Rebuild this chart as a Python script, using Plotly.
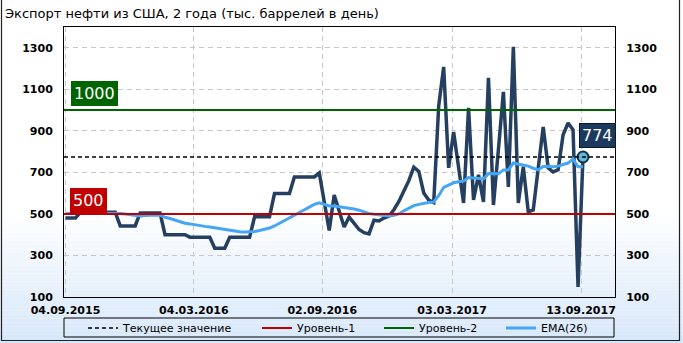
import plotly.graph_objects as go

# ---------------- data ----------------
title_text = "Экспорт нефти из США, 2 года (тыс. баррелей в день)"
tick_labels = ["04.09.2015", "04.03.2016", "02.09.2016", "03.03.2017", "13.09.2017"]
tick_positions = [0, 25.8, 51.6, 77.7, 103.6]

export = [
    480, 480, 480, 508, 508, 508, 508, 508, 508, 508,
    508, 442, 442, 442, 442, 505, 505, 505, 505, 505,
    400, 400, 400, 400, 400, 388, 388, 388, 388, 388,
    335, 335, 335, 388, 388, 388, 388, 388, 486, 486,
    486, 486, 598, 598, 598, 598, 678, 678, 678, 678,
    678, 697, 560, 420, 591, 515, 437, 485, 455, 425,
    410, 404, 470, 466, 480, 490, 520, 560, 610, 660,
    725, 705, 601, 567, 555, 1020, 1208, 722, 895, 720,
    553, 1011, 567, 688, 558, 1155, 543, 810, 1088, 630,
    1305, 553, 727, 510, 519, 720, 919, 722, 702, 712,
    881, 938, 905, 148, 774,
]

ema26 = [
    502, 502, 503, 505, 505, 505, 505, 505, 505, 505,
    503, 502, 500, 496, 492, 490, 492, 494, 495, 494,
    484, 478, 470, 463, 455, 452, 447, 443, 440, 437,
    433, 428, 423, 420, 416, 414, 413, 413, 415, 420,
    426, 432, 442, 455, 468, 481, 495, 508, 521, 534,
    546, 553, 545, 538, 538, 535, 532, 528, 524, 518,
    510, 502, 498, 495, 491, 490, 494, 500, 515, 527,
    540, 546, 552, 555, 558, 588, 628, 638, 650, 655,
    658, 675, 673, 670, 668, 695, 694, 693, 712, 712,
    745, 740, 736, 730, 720, 712, 728, 730, 727, 730,
    738, 745, 765, 727, 727,
]

level1 = 500
level2 = 1000
current = export[-1]

series_names = ["Текущее значение", "Уровень-1", "Уровень-2", "EMA(26)"]
y_ticks = [100, 300, 500, 700, 900, 1100, 1300]

# ---------------- geometry helpers ----------------
W, H = 683, 343
ML, MR, MT, MB = 64, 68, 27, 46
PW, PH = W - ML - MR, H - MT - MB


def px(xp):
    return (xp - ML) / PW


def py(yp):
    return (H - MB - yp) / PH


FONT = "DejaVu Sans"
NAVY = "#243f60"
BLUE = "#45a6f5"
RED = "#c00000"
GREEN = "#006400"

x_idx = list(range(len(export)))

fig = go.Figure()

fig.add_trace(go.Scatter(
    x=x_idx, y=export, mode="lines",
    line=dict(color=NAVY, width=3.5), showlegend=False, hoverinfo="skip"))

fig.add_trace(go.Scatter(
    x=x_idx, y=ema26, mode="lines", name=series_names[3],
    line=dict(color=BLUE, width=3), legend="legend4"))

fig.add_trace(go.Scatter(
    x=[x_idx[-1]], y=[current], mode="markers", showlegend=False,
    marker=dict(size=11, color="#63b8d3", line=dict(color="#14304f", width=2))))

# invisible trace for right axis
fig.add_trace(go.Scatter(x=[x_idx[0]], y=[current], yaxis="y2", mode="markers",
                         marker=dict(opacity=0), showlegend=False, hoverinfo="skip"))

# gradient background bands
N = 32
g0, g1 = 212, H
top_c = (255, 255, 255)
bot_c = (214, 231, 250)
for k in range(N):
    a = g0 + (g1 - g0) * k / N
    b = g0 + (g1 - g0) * (k + 1) / N
    t = (k + 0.5) / N
    c = tuple(int(round(top_c[j] + (bot_c[j] - top_c[j]) * t)) for j in range(3))
    fig.add_shape(type="rect", xref="paper", yref="paper",
                  x0=px(0), x1=px(W), y0=py(b), y1=py(a),
                  line=dict(width=0), fillcolor="rgb(%d,%d,%d)" % c, layer="below")

# level lines (with legend entries)
fig.add_shape(type="line", xref="x domain", yref="y", x0=0, x1=1, y0=current, y1=current,
              line=dict(color="black", width=1.3, dash="4px,3px"),
              showlegend=True, name=series_names[0], legend="legend")
fig.add_shape(type="line", xref="x domain", yref="y", x0=0, x1=1, y0=level1, y1=level1,
              line=dict(color=RED, width=2), showlegend=True, name=series_names[1], legend="legend2")
fig.add_shape(type="line", xref="x domain", yref="y", x0=0, x1=1, y0=level2, y1=level2,
              line=dict(color=GREEN, width=2), showlegend=True, name=series_names[2], legend="legend3")

# legend frame
fig.add_shape(type="rect", xref="paper", yref="paper", x0=px(64), x1=px(614),
              y0=py(337), y1=py(318), line=dict(color="black", width=1), layer="above")
# outer border
fig.add_shape(type="path", xref="paper", yref="paper",
              path="M %f,%f L %f,%f L %f,%f L %f,%f" % (px(1.5), py(0), px(1.5), py(340.5),
                                                       px(679.5), py(340.5), px(679.5), py(0)),
              line=dict(color="#222222", width=1.2), layer="above")

# label boxes
fig.add_annotation(xref="paper", yref="y", x=px(71), y=level2, xanchor="left", yanchor="bottom",
                   yshift=4, text=str(level2), showarrow=False,
                   font=dict(family=FONT, size=16, color="white"),
                   bgcolor=GREEN, bordercolor=GREEN, borderwidth=1, borderpad=2)
fig.add_annotation(xref="paper", yref="y", x=px(70), y=level1, xanchor="left", yanchor="bottom",
                   yshift=1, text=str(level1), showarrow=False,
                   font=dict(family=FONT, size=16, color="white"),
                   bgcolor=RED, bordercolor=RED, borderwidth=1, borderpad=2)
fig.add_annotation(xref="x", yref="y", x=x_idx[-1], y=current, xanchor="left", yanchor="bottom",
                   xshift=-4, yshift=9, text=str(current), showarrow=False,
                   font=dict(family=FONT, size=16, color="white"),
                   bgcolor="#1c3a5e", bordercolor="#0a1a2e", borderwidth=1, borderpad=2)

axis_font = dict(family=FONT, size=11, color="black", weight="bold")
grid = dict(showgrid=True, gridcolor="#c8c8c8", griddash="5px,4px", gridwidth=1, zeroline=False)

legend_common = dict(orientation="h", yanchor="middle", xanchor="left",
                     xref="container", yref="container", y=1 - 328 / H,
                     bgcolor="rgba(0,0,0,0)", borderwidth=0,
                     font=dict(family=FONT, size=11, color="black"))

fig.update_layout(
    width=W, height=H,
    margin=dict(l=ML, r=MR, t=MT, b=MB, pad=0, autoexpand=False),
    paper_bgcolor="white", plot_bgcolor="white",
    title=dict(text=title_text, x=5 / W, xanchor="left", y=1 - 13 / H, yanchor="middle",
               font=dict(family=FONT, size=13, color="black")),
    xaxis=dict(range=[-0.3, 110.43], tickvals=tick_positions, ticktext=tick_labels,
               tickfont=axis_font, showline=True, linecolor="black", linewidth=1, mirror=True,
               ticks="outside", ticklen=3, tickcolor="rgba(0,0,0,0)", **grid),
    yaxis=dict(range=[100, 1400], tickvals=y_ticks, tickfont=axis_font,
               showline=True, linecolor="black", linewidth=1, mirror=True,
               ticks="outside", ticklen=8, tickcolor="rgba(0,0,0,0)", **grid),
    yaxis2=dict(range=[100, 1400], tickvals=y_ticks, tickfont=axis_font, overlaying="y",
                side="right", showgrid=False, zeroline=False, showline=False,
                ticks="outside", ticklen=8, tickcolor="rgba(0,0,0,0)"),
    legend=dict(x=83 / W, **legend_common),
    legend2=dict(x=257 / W, **legend_common),
    legend3=dict(x=379 / W, **legend_common),
    legend4=dict(x=501 / W, **legend_common),
    hovermode=False,
)

fig.write_html("out.html")
